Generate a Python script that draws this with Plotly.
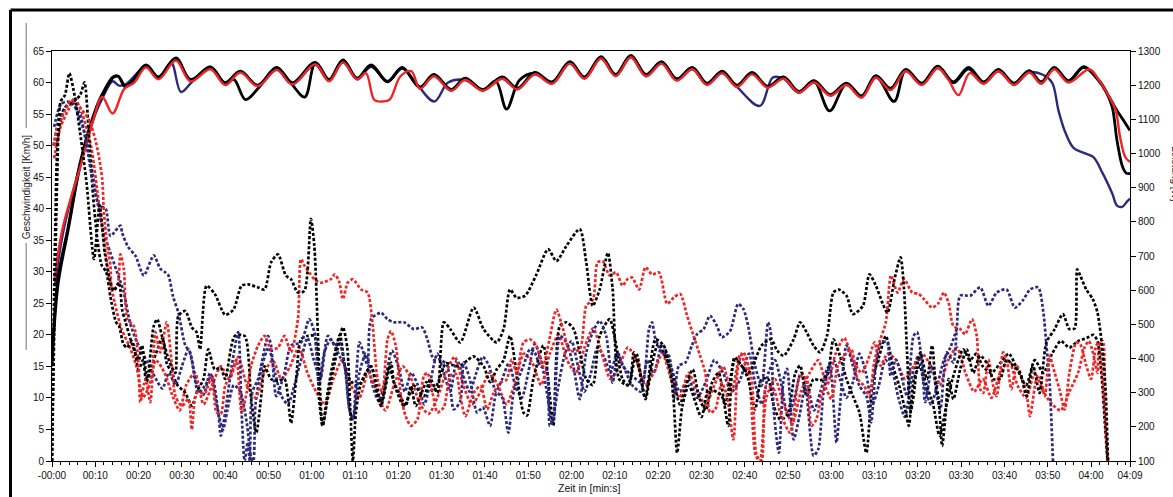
import plotly.graph_objects as go

# ---------------- tick labels ----------------
x_tick_vals = [0, 10, 20, 30, 40, 50, 60, 70, 80, 90, 100, 110, 120, 130, 140, 150,
               160, 170, 180, 190, 200, 210, 220, 230, 240, 249]
x_tick_text = ["-00:00", "00:10", "00:20", "00:30", "00:40", "00:50", "01:00", "01:10",
               "01:20", "01:30", "01:40", "01:50", "02:00", "02:10", "02:20", "02:30",
               "02:40", "02:50", "03:00", "03:10", "03:20", "03:30", "03:40", "03:50",
               "04:00", "04:09"]

# ---------------- speed (km/h), solid lines: (seconds, km/h) ----------------
speed_black_1 = [(0, 16), (1.4, 29), (3.7, 37), (6.4, 47), (8.5, 52.5), (10.9, 57.2), (12.1, 58.8),
    (14.1, 60.9), (15.3, 61.0), (16.9, 59.3), (18.5, 60.1), (21.7, 62.7), (24.6, 60.8), (28.6, 63.8),
    (32.0, 60.5), (36.6, 62.4), (40.0, 59.8), (42.0, 60.5), (44.7, 57.3), (47.9, 59.3), (51.9, 62.3),
    (55.3, 59.8), (58.4, 57.7), (60.8, 63.0), (64.0, 60.4), (67.2, 63.5), (70.5, 60.6), (73.7, 62.7),
    (77.5, 60.1), (80.9, 62.3), (85.0, 59.2), (88.2, 61.2), (92.2, 58.8), (95.4, 60.6), (99.5, 58.8),
    (102.5, 60.2), (105.0, 55.8), (108.0, 60.4), (111.5, 61.5), (115.5, 60.0), (119.6, 63.2),
    (123.0, 60.8), (126.8, 64.0), (130.2, 61.2), (133.7, 64.2), (137.2, 61.2), (140.8, 63.2),
    (144.3, 60.5), (147.9, 62.3), (151.3, 59.8), (154.8, 61.7), (158.2, 59.5), (161.7, 61.5),
    (165.3, 59.3), (169.0, 60.8), (172.5, 58.5), (176.0, 60.2), (179.6, 55.5), (183.5, 59.8),
    (187.0, 57.8), (190.3, 61.0), (194.5, 57.0), (197.2, 62.0), (200.9, 59.8), (204.6, 62.5),
    (208.2, 60.0), (211.7, 62.3), (215.2, 60.0), (218.6, 62.0), (222.2, 59.8), (225.7, 61.8),
    (228.5, 60.0), (231.5, 62.3), (234.8, 60.2), (238.3, 62.4), (241.9, 60.3), (244.2, 57.7),
    (245.7, 55.9), (247.5, 54.0), (249, 52.4)]

speed_black_2 = [(0, 15), (1.4, 28), (3.7, 36.5), (6.4, 46.5), (8.5, 52), (10.9, 57), (12.1, 58.6),
    (14.1, 60.8), (15.3, 61.0), (16.9, 59.5), (18.5, 60.2), (21.7, 62.8), (24.6, 60.9), (28.6, 63.9),
    (32.0, 60.4), (36.6, 62.5), (40.0, 60.0), (43.5, 61.8), (47.5, 59.6), (51.9, 62.4), (55.5, 60.0),
    (60.8, 63.2), (64.0, 60.5), (67.2, 63.6), (70.5, 60.7), (73.7, 62.8), (77.5, 60.2), (80.9, 62.4),
    (85.0, 59.3), (88.2, 61.3), (92.2, 58.9), (95.4, 60.7), (99.5, 58.9), (104.0, 60.9), (107.5, 59.1),
    (111.5, 61.6), (115.5, 60.1), (119.6, 63.3), (123.0, 60.9), (126.8, 64.1), (130.2, 61.3),
    (133.7, 64.3), (137.2, 61.3), (140.8, 63.3), (144.3, 60.6), (147.9, 62.4), (151.3, 59.9),
    (154.8, 61.8), (158.2, 59.6), (161.7, 61.6), (165.3, 59.4), (169.0, 60.9), (172.5, 58.6),
    (176.0, 60.3), (179.8, 58.1), (183.5, 59.9), (187.0, 57.9), (190.3, 61.1), (193.7, 59.1),
    (197.2, 62.1), (200.9, 59.9), (204.6, 62.6), (208.2, 60.1), (211.7, 62.4), (215.2, 60.1),
    (218.6, 62.1), (222.2, 59.9), (225.7, 61.9), (228.5, 60.1), (231.5, 62.4), (234.8, 60.3),
    (238.3, 62.5), (241.5, 60.5), (243.5, 58.5), (244.9, 56.1), (246.0, 50.8), (247.3, 46.6),
    (248.2, 45.6), (249, 45.6)]

speed_blue = [(0.7, 28), (2.5, 36), (6.5, 47), (10.0, 55), (12.0, 58), (14.0, 60.2), (15.5, 59.5),
    (17.2, 59.8), (21.7, 62.5), (24.6, 60.7), (27.5, 63.2), (29.8, 58.5), (32.5, 60.2), (36.6, 62.2),
    (40.0, 59.8), (43.5, 61.8), (47.5, 59.5), (51.9, 62.0), (55.5, 59.8), (60.8, 62.8), (64.0, 60.3),
    (67.2, 63.2), (70.5, 60.5), (73.7, 62.5), (77.5, 60.2), (80.9, 62.2), (84.0, 60.0), (88.3, 57.0),
    (91.5, 60.0), (95.4, 60.4), (99.5, 58.8), (104.0, 60.6), (107.5, 59.0), (111.5, 61.3),
    (115.5, 59.9), (119.6, 63.0), (123.0, 60.7), (126.8, 63.8), (130.2, 61.1), (133.7, 64.0),
    (137.2, 61.0), (140.8, 63.0), (144.3, 60.4), (147.9, 62.1), (151.3, 59.7), (154.8, 61.5),
    (158.2, 59.3), (163.5, 56.3), (166.5, 60.8), (169.0, 60.6), (172.5, 58.4), (176.0, 60.0),
    (179.8, 58.0), (183.5, 59.7), (187.0, 57.7), (190.3, 60.8), (193.7, 58.9), (197.2, 61.8),
    (200.9, 59.7), (204.6, 62.3), (208.2, 59.9), (211.7, 62.1), (215.2, 59.9), (218.6, 61.8),
    (222.2, 59.7), (225.7, 61.6), (229.0, 61.2), (231.0, 60.0), (232.5, 55.5), (234.0, 52.2),
    (236.0, 49.6), (238.5, 48.8), (240.5, 48.2), (242.7, 45.6), (244.9, 42.4), (246.0, 40.5),
    (247.2, 40.3), (248.4, 41.2), (249, 41.6)]

speed_red = [(0.6, 29), (2.5, 37), (6.7, 47), (9.5, 54), (11.6, 57.7), (14.0, 55.1), (16.7, 59),
    (19.0, 60), (21.7, 62.4), (24.6, 60.5), (28.6, 63.5), (32.0, 60.2), (36.6, 62.1), (40.0, 59.6),
    (43.5, 61.6), (47.5, 59.4), (51.9, 62.0), (55.5, 59.7), (60.8, 62.9), (64.0, 60.2), (67.2, 63.2),
    (70.5, 60.5), (72.5, 61.5), (74.5, 57.2), (76.5, 57.0), (78.0, 57.3), (80.5, 61.0), (83.0, 61.8),
    (85.0, 59.0), (88.2, 61.0), (92.2, 58.7), (95.4, 60.4), (99.5, 58.7), (104.0, 60.6), (107.5, 58.9),
    (111.5, 61.3), (115.5, 59.8), (119.6, 63.0), (123.0, 60.6), (126.8, 63.8), (130.2, 61.0),
    (133.7, 64.0), (137.2, 61.0), (140.8, 63.0), (144.3, 60.3), (147.9, 62.1), (151.3, 59.6),
    (154.8, 61.5), (158.2, 59.3), (161.7, 61.3), (165.3, 59.2), (169.0, 60.6), (172.5, 58.4),
    (176.0, 60.0), (179.8, 57.9), (183.5, 59.6), (187.0, 57.6), (190.3, 60.8), (193.7, 58.8),
    (197.2, 61.8), (200.9, 59.6), (204.6, 62.3), (207.0, 60.5), (209.4, 58.0), (212.0, 61.5),
    (215.2, 59.8), (218.6, 61.8), (222.2, 59.6), (225.7, 61.6), (228.5, 59.8), (231.5, 62.1),
    (234.8, 60.0), (239.6, 62.1), (241.9, 60.3), (244.2, 57.7), (245.7, 55.6), (246.7, 51.4),
    (247.9, 48.2), (249, 47.4)]

# ---------------- power (W), dotted lines: (seconds, watts) ----------------
power_black_1 = [(0, 100), (0.5, 469), (1.2, 931), (2, 1152), (3, 1171), (4, 1235), (5.2, 1171),
    (6.5, 1060), (8, 912), (9.7, 691), (11, 848), (12.2, 709), (13.5, 622), (14.3, 598), (15.5, 622),
    (16.2, 543), (17, 506), (18.5, 442), (20, 395), (20.8, 438), (22, 340), (23.5, 495), (24.3, 515),
    (25.4, 466), (27, 395), (28.5, 358), (29.2, 525), (30.8, 539), (32.3, 491), (33.4, 477),
    (34.2, 427), (35.7, 613), (37.6, 589), (40, 528), (41.9, 543), (43.8, 613), (45.3, 617),
    (47.6, 608), (49.1, 602), (50.6, 681), (52.2, 705), (54, 643), (55.2, 632), (56.8, 593),
    (58.3, 598), (59.8, 809), (60.6, 728), (61.7, 377), (62.5, 203), (63.7, 285), (65.3, 388),
    (67.2, 491), (68.2, 432), (68.9, 251), (69.5, 100), (70.2, 242), (71.4, 329), (73.7, 377),
    (75.2, 290), (76, 261), (78.3, 388), (79, 329), (81.3, 261), (83.6, 320), (85.9, 290),
    (87.4, 340), (89, 299), (90.5, 506), (92, 486), (94.3, 447), (97.4, 549), (99.7, 486),
    (102.7, 447), (104.3, 486), (105.8, 602), (107.3, 578), (109.3, 584), (111.9, 646),
    (114.6, 720), (116.5, 685), (118.8, 729), (121.9, 779), (123.4, 681), (124.9, 554),
    (126.5, 602), (128.4, 709), (129.5, 602), (131, 340), (133, 322), (135, 414), (137, 285),
    (139.4, 456), (141.3, 438), (143.3, 320), (144.4, 124), (145.6, 261), (147.1, 320), (150, 229),
    (151.7, 310), (154.7, 290), (156.2, 203), (157.7, 403), (160.8, 358), (163.9, 438),
    (166.1, 456), (167.5, 423), (169, 408), (171.3, 456), (172.8, 506), (174.3, 477), (175.9, 438),
    (177.4, 418), (179, 466), (180.5, 593), (181.7, 602), (183.5, 584), (185, 530), (187.3, 554),
    (188.8, 646), (190.3, 613), (191.9, 560), (193, 534), (194.6, 632), (196, 696), (196.8, 602),
    (197.5, 418), (198.3, 242), (199.1, 299), (199.8, 379), (200.6, 418), (202.1, 340),
    (203.3, 438), (204, 340), (204.8, 281), (205.6, 144), (206.3, 222), (207.1, 340), (208.2, 281),
    (209.8, 370), (211.3, 427), (212.8, 358), (214.4, 408), (216.3, 379), (217.4, 340), (219, 340),
    (220.5, 397), (222, 379), (223.6, 358), (225.1, 290), (226.6, 379), (228.1, 299), (229.7, 447),
    (231.6, 486), (233.5, 530), (235, 486), (236.2, 488), (236.8, 661), (237.5, 643), (238.9, 602),
    (240.4, 574), (241.5, 534), (242.7, 418), (243.4, 299), (243.9, 100)]

power_black_2 = [(0, 100), (0.7, 746), (1.5, 1060), (3, 1134), (5, 1152), (6.5, 1171), (7.5, 1208),
    (8.5, 1060), (9.5, 875), (10.5, 746), (11.5, 672), (12.5, 654), (13.5, 580), (14.8, 506),
    (15.5, 495), (16.5, 442), (17.3, 432), (18.5, 451), (20, 368), (21, 395), (21.8, 331), (23, 377),
    (24, 414), (25.5, 460), (26.5, 386), (27.7, 358), (29, 322), (30.8, 299), (32.3, 261),
    (33.5, 303), (35, 340), (36.1, 427), (37.6, 368), (39, 373), (40, 340), (42.2, 466), (44.5, 466),
    (46, 281), (47.2, 183), (48.4, 299), (49.1, 377), (50.6, 340), (52.2, 334), (53.7, 340),
    (55.2, 211), (56.4, 340), (57.5, 456), (59, 466), (60.6, 466), (61.7, 281), (62.5, 203),
    (63.7, 303), (65, 395), (66.5, 469), (68, 358), (70, 322), (71.4, 329), (72.5, 358), (73.7, 377),
    (75, 322), (76, 266), (77.9, 377), (79, 329), (80.2, 299), (81.7, 261), (82.9, 320), (84, 261),
    (85.5, 303), (86.5, 331), (88, 303), (89.5, 340), (91, 386), (92.5, 381), (94, 377), (96, 395),
    (97.4, 406), (99.7, 377), (101.2, 331), (102.7, 368), (104.3, 395), (105.8, 466), (107.3, 358),
    (108.9, 242), (109.7, 233), (111.2, 340), (113.5, 438), (115, 290), (115.8, 203), (117.3, 495),
    (118.8, 506), (120.4, 488), (121.9, 418), (123.4, 340), (124.9, 322), (126.5, 466),
    (128.8, 515), (130.2, 447), (131.8, 340), (133.3, 320), (134.4, 418), (135.6, 368),
    (137.1, 281), (138.5, 377), (140, 442), (142, 395), (143.5, 340), (145, 266), (146.5, 322),
    (148, 368), (149.5, 285), (151, 248), (152.5, 331), (154, 358), (155.5, 266), (157.8, 397),
    (159.3, 379), (160.8, 340), (162.4, 251), (163.9, 340), (165.4, 340), (166.7, 261),
    (168.2, 222), (169.8, 233), (171.7, 358), (172.8, 379), (174.3, 290), (175.9, 340),
    (177.4, 336), (179, 349), (180.5, 456), (182, 408), (183.5, 340), (185, 290), (186.5, 242),
    (188.1, 124), (189.6, 340), (191.1, 408), (192.6, 466), (194.2, 379), (195.7, 320),
    (197.2, 242), (197.9, 203), (199.1, 340), (200.5, 377), (202, 322), (203.5, 266), (205, 174),
    (206.5, 257), (208, 340), (210.5, 427), (212, 395), (213.5, 414), (215, 377), (217, 358),
    (219, 386), (221, 414), (223, 368), (225, 322), (227, 395), (229, 358), (231, 414), (233, 451),
    (235, 432), (237, 451), (239, 460), (240.5, 469), (241.5, 451), (242.5, 340), (243.3, 192),
    (243.8, 100)]

power_red_1 = [(0.3, 1023), (1.4, 1082), (3, 1125), (4.4, 1156), (6.4, 1136), (8.6, 1097),
    (10, 1041), (10.9, 986), (11.6, 925), (12, 827), (12.8, 728), (13.5, 672), (13.9, 602),
    (15.1, 613), (15.8, 705), (16.6, 661), (17.4, 515), (18.9, 495), (20, 379), (20.4, 272),
    (21.6, 340), (22.7, 272), (23.9, 477), (25, 418), (26.5, 506), (27.7, 379), (28.5, 290),
    (30, 261), (31.5, 281), (32.3, 192), (33.4, 299), (35.3, 299), (36.9, 349), (38, 242),
    (39, 238), (40, 320), (41.5, 358), (42.6, 397), (43.8, 242), (45, 303), (46, 379), (47.6, 438),
    (49.1, 466), (50.6, 427), (52.2, 432), (53.7, 466), (55.2, 418), (56.8, 515), (57.5, 691),
    (58.3, 672), (59.4, 652), (60.6, 632), (62.1, 622), (64.4, 632), (65.3, 646), (66.3, 626),
    (67.2, 574), (68.3, 622), (69.5, 632), (71.4, 602), (72.9, 593), (74, 506), (75.2, 340),
    (76.3, 299), (77.5, 456), (78.3, 480), (79.4, 438), (80.6, 290), (81.7, 231), (82.9, 203),
    (84.4, 222), (85.9, 349), (86.7, 358), (88.2, 281), (89, 242), (90.5, 257), (92, 349),
    (93.3, 355), (94.3, 290), (95.5, 231), (97.4, 299), (99, 320), (100.5, 251), (102, 299),
    (103.5, 329), (105, 338), (106.2, 397), (107.3, 358), (108.9, 447), (110.4, 456), (111.9, 438),
    (113.4, 377), (114.9, 456), (116.5, 543), (118, 488), (119.6, 423), (121.9, 427), (123.4, 554),
    (125, 574), (126, 681), (127.2, 685), (128.8, 643), (130.3, 652), (131.8, 613), (132.9, 632),
    (134, 637), (135.6, 602), (137.1, 667), (138.6, 646), (140.2, 652), (142.1, 560), (143.6, 578),
    (145.1, 589), (146.7, 525), (148.2, 466), (149.7, 408), (150.9, 358), (152, 242), (153.2, 251),
    (154.7, 329), (155.9, 290), (157.4, 163), (158.5, 379), (159.7, 418), (161.6, 340),
    (162.8, 115), (163.9, 100), (165, 320), (166.7, 310), (168.2, 242), (170.5, 183), (172.8, 349),
    (174.3, 340), (175.4, 203), (176.5, 220), (178.4, 320), (180, 281), (181.5, 379), (183, 408),
    (184.6, 427), (186.1, 340), (187.6, 320), (188.8, 290), (189.9, 388), (191.1, 447),
    (192.6, 506), (193.8, 643), (195.3, 593), (196.8, 632), (198.7, 593), (200.2, 589),
    (201.4, 574), (203.3, 549), (204.8, 563), (206, 593), (207.1, 563), (208.2, 495), (209.8, 486),
    (210.9, 471), (212.5, 515), (213.6, 466), (214.4, 310), (215.1, 299), (216.3, 397),
    (217.4, 320), (218.2, 290), (219.7, 418), (220.5, 397), (221.6, 310), (222.8, 379),
    (223.9, 349), (225.1, 299), (225.9, 231), (227.4, 340), (228.1, 349), (229.3, 290),
    (230.4, 408), (231.6, 358), (232.7, 310), (233.9, 251), (235, 358), (236.6, 447), (237.5, 442),
    (238.9, 379), (240, 340), (241.2, 438), (241.9, 447), (242.7, 340), (243.4, 192), (244, 100)]

power_red_2 = [(0.5, 986), (2, 1078), (4, 1134), (5.2, 1163), (7, 1115), (9, 1023), (11, 838),
    (13, 654), (14.5, 562), (16, 488), (18, 432), (19.5, 377), (21, 285), (22.5, 322), (24, 395),
    (26, 358), (28, 285), (29.5, 248), (31, 322), (33, 358), (35, 266), (37, 322), (39, 377),
    (41, 340), (43, 405), (45, 322), (47, 285), (49, 358), (51, 395), (53, 340), (55, 377),
    (57, 432), (59, 358), (61, 303), (63, 266), (65, 340), (67, 395), (69, 322), (71, 285),
    (73, 358), (75, 303), (77, 248), (79, 322), (81, 377), (83, 340), (85, 266), (87, 238),
    (89, 285), (91, 358), (93, 405), (95, 322), (97, 266), (99, 303), (101, 358), (103, 322),
    (105, 266), (107, 331), (109, 414), (111, 386), (113, 322), (115, 414), (117, 469), (119, 395),
    (121, 358), (123, 432), (125, 488), (127, 414), (129, 340), (131, 377), (133, 432), (135, 395),
    (137, 322), (139, 358), (141, 414), (143, 340), (145, 285), (147, 358), (149, 303), (151, 266),
    (153, 322), (155, 377), (157, 303), (159, 414), (161, 340), (162.5, 118), (163.5, 100),
    (165, 285), (167, 340), (169, 266), (171, 211), (173, 303), (175, 358), (177, 395), (179, 322),
    (181, 414), (183, 460), (185, 395), (187, 358), (189, 414), (190, 447), (191.4, 379),
    (193, 414), (195, 395), (197, 340), (199, 377), (201, 414), (203, 377), (205, 322), (207, 395),
    (209, 432), (211, 358), (213, 303), (215, 340), (217, 285), (219, 358), (221, 395), (223, 322),
    (225, 285), (227, 358), (229, 303), (231, 266), (233, 248), (235, 303), (237, 358),
    (238.5, 432), (239.5, 451), (240.5, 414), (241.5, 358), (242, 451), (242.7, 451),
    (243.2, 285), (243.8, 100)]

power_blue_1 = [(0.5, 1078), (2, 1143), (3.5, 1152), (5, 1143), (6.5, 1115), (8, 1023), (9.5, 912),
    (10.9, 848), (12.4, 838), (13.5, 759), (15.8, 789), (16.2, 768), (17.5, 728), (19.3, 700),
    (21.2, 643), (23.5, 702), (25, 663), (26.2, 652), (26.9, 643), (28, 580), (29.2, 534),
    (30.8, 438), (31.9, 418), (33, 340), (33.8, 299), (35.3, 320), (36.9, 349), (38.4, 242),
    (39, 174), (40, 242), (41.5, 377), (43, 477), (43.8, 242), (44.5, 100), (45.2, 155),
    (45.7, 100), (46.2, 299), (47.6, 340), (49.9, 466), (50.6, 438), (51.8, 290), (53.7, 358),
    (55.2, 438), (57.5, 447), (59.4, 515), (60.6, 477), (61.7, 320), (62.9, 418), (64.4, 456),
    (65.3, 438), (66.3, 447), (67.6, 379), (68.7, 251), (69.5, 222), (71, 447), (71.8, 423),
    (72.9, 379), (73.7, 515), (76, 534), (77.5, 515), (79, 506), (81.3, 506), (83.6, 486),
    (85.5, 491), (86.7, 456), (88.2, 397), (89.7, 397), (91.3, 379), (92.8, 251), (94.3, 275),
    (95.1, 388), (96.5, 340), (98.2, 242), (99.5, 257), (101.2, 203), (102.7, 299), (104, 285),
    (105.4, 183), (106.6, 299), (107.7, 340), (108.9, 379), (110.4, 427), (111.5, 418),
    (112.7, 379), (114.2, 368), (115, 203), (115.8, 222), (117.3, 466), (118.8, 447), (120.4, 379),
    (121.9, 281), (123.4, 418), (124.9, 477), (126.5, 510), (128, 466), (129.5, 329), (130.7, 418),
    (131.8, 379), (134, 349), (136.3, 329), (137.9, 486), (138.6, 506), (139.4, 456), (140.9, 418),
    (142.5, 408), (143.6, 281), (144.8, 379), (146.3, 388), (147.8, 438), (149, 471), (150.5, 486),
    (152, 525), (153.6, 495), (154.7, 462), (156.6, 480), (158.5, 560), (159.7, 545), (160.8, 495),
    (162.4, 379), (163.9, 320), (165.4, 506), (166, 478), (166.7, 251), (167.9, 124), (169, 340),
    (169.8, 370), (171.3, 163), (172.8, 242), (174, 320), (175.9, 115), (177, 135), (178.2, 299),
    (179.7, 379), (181.2, 154), (182, 261), (183.5, 438), (185, 379), (186.5, 320), (188.1, 290),
    (189.2, 213), (190.3, 379), (191.5, 447), (192.9, 447), (193.7, 349), (194.9, 397), (196, 358),
    (197.5, 290), (199, 466), (199.8, 477), (201, 379), (201.7, 272), (203.3, 379), (204.4, 290),
    (205.2, 251), (206.7, 418), (208.2, 388), (209, 488), (209.8, 584), (212.1, 584), (214.4, 608),
    (216.3, 554), (218.2, 593), (220.5, 602), (222.4, 549), (224.3, 571), (225.9, 602),
    (227.8, 608), (229, 534), (229.7, 438), (230.4, 340), (231.2, 100)]

power_blue_2 = [(0.5, 1023), (1.5, 1097), (3, 1134), (4.5, 1152), (6, 1115), (7.5, 1060), (9, 968),
    (10.5, 857), (12, 765), (13.5, 709), (15, 654), (16.5, 598), (18, 506), (19.5, 451), (21, 414),
    (22.5, 377), (24, 340), (25.5, 312), (27, 358), (28.5, 322), (30, 377), (31.5, 427), (32.3, 395),
    (33.5, 322), (35, 294), (36.5, 358), (38, 266), (39.5, 192), (40.5, 248), (42, 322), (43.5, 303),
    (45, 211), (46, 109), (46.5, 100), (47, 266), (48.5, 377), (50, 432), (51.5, 358), (53, 290),
    (54.5, 266), (56, 322), (57.5, 395), (59, 460), (60.5, 395), (62, 340), (63.7, 466),
    (65.3, 438), (66.5, 405), (67.6, 379), (68.7, 251), (69.5, 222), (71, 358), (72.5, 414),
    (74, 322), (75.5, 275), (77, 340), (78.5, 423), (80, 377), (81.5, 303), (83, 358), (84.5, 322),
    (86, 266), (87.5, 340), (89, 414), (90.5, 358), (92, 303), (93.5, 395), (95, 349), (96.5, 303),
    (98, 358), (99.5, 405), (101, 377), (102.5, 303), (104, 340), (105.5, 386), (107, 322),
    (108.5, 285), (110, 358), (111.5, 442), (113, 395), (114.5, 285), (115.5, 211), (117, 322),
    (118.5, 414), (120, 451), (121.5, 377), (123, 303), (124.5, 358), (126, 432), (127.5, 405),
    (129, 358), (130.5, 414), (132, 377), (134, 322), (136, 303), (137.5, 395), (139, 358),
    (141, 442), (143, 377), (145, 303), (147, 340), (149, 285), (151, 331), (153, 395), (155, 358),
    (157, 303), (159, 340), (161, 414), (162.5, 322), (164, 266), (165.5, 358), (167, 395),
    (168.5, 322), (170, 229), (171.5, 285), (173, 358), (174.5, 322), (176, 248), (177.5, 303),
    (179, 368), (180.5, 395), (182, 340), (183.5, 285), (185, 331), (186.5, 414), (188, 358),
    (189.5, 266), (191, 322), (192.5, 395), (194, 368), (195.5, 285), (197, 229), (198.5, 340),
    (200, 405), (201.5, 322), (203, 266), (204.5, 322), (206, 395), (207.5, 432), (209, 488)]

# ---------------- styling ----------------
BLACK = "#000000"
RED = "#f02424"
BLUE = "#2c2a7e"
FONT = "Liberation Sans"

fig = go.Figure()


def add_power(series, color):
    fig.add_trace(go.Scatter(
        x=[p[0] for p in series], y=[p[1] for p in series], yaxis="y2", mode="lines",
        line=dict(color=color, width=2.7, dash="3px,2px", shape="spline", smoothing=0.7),
        hoverinfo="skip", showlegend=False))


def add_speed(series, color, width):
    fig.add_trace(go.Scatter(
        x=[p[0] for p in series], y=[p[1] for p in series], mode="lines",
        line=dict(color=color, width=width, shape="spline", smoothing=1.0),
        hoverinfo="skip", showlegend=False))


add_power(power_blue_2, BLUE)
add_power(power_red_2, RED)
add_power(power_black_2, BLACK)
add_power(power_blue_1, BLUE)
add_power(power_red_1, RED)
add_power(power_black_1, BLACK)
add_speed(speed_blue, BLUE, 2.4)
add_speed(speed_black_2, BLACK, 2.8)
add_speed(speed_black_1, BLACK, 2.8)
add_speed(speed_red, RED, 2.4)

minor_vals = [v for v in range(2, 249, 2) if v % 10 != 0]

fig.update_layout(
    width=1173, height=497, autosize=False,
    margin=dict(l=52, r=35, t=51, b=36, pad=0),
    paper_bgcolor="white", plot_bgcolor="white",
    font=dict(family=FONT, size=10, color="#111"),
    xaxis=dict(range=[0, 249], tickmode="array", tickvals=x_tick_vals, ticktext=x_tick_text,
               ticks="outside", ticklen=5, tickwidth=1, tickcolor="black",
               showline=True, linecolor="black", linewidth=1, mirror=True,
               showgrid=False, zeroline=False, tickfont=dict(size=10),
               minor=dict(tickmode="array", tickvals=minor_vals, ticks="outside", ticklen=3,
                          tickcolor="black", tickwidth=1, showgrid=False)),
    yaxis=dict(range=[0, 65], tick0=0, dtick=5, ticks="outside", ticklen=5, tickwidth=1,
               tickcolor="black", showline=True, linecolor="black", linewidth=1,
               showgrid=False, zeroline=False, tickfont=dict(size=10)),
    yaxis2=dict(range=[100, 1300], tick0=100, dtick=100, overlaying="y", side="right",
                ticks="outside", ticklen=5, tickwidth=1, tickcolor="black",
                showline=True, linecolor="black", linewidth=1,
                showgrid=False, zeroline=False, tickfont=dict(size=10)),
)

# outer frame and axis-title decoration
fig.add_shape(type="line", xref="paper", yref="paper", x0=-0.0385, y0=-0.12, x1=-0.0385, y1=1.1,
              line=dict(color="black", width=3))
fig.add_shape(type="line", xref="paper", yref="paper", x0=-0.0385, y0=1.1, x1=1.06, y1=1.1,
              line=dict(color="black", width=3))
fig.add_shape(type="line", xref="paper", yref="paper", x0=-0.0239, y0=1.068, x1=-0.0239, y1=0.812,
              line=dict(color="#a0a0a0", width=1.5))
fig.add_shape(type="line", xref="paper", yref="paper", x0=-0.0239, y0=0.532, x1=-0.0239, y1=0.271,
              line=dict(color="#a0a0a0", width=1.5))

fig.add_annotation(text="Geschwindigkeit [Km/h]", xref="paper", yref="paper", x=-0.0239, y=0.668,
                   textangle=-90, showarrow=False, xanchor="center", yanchor="middle",
                   font=dict(size=10, color="#222"))
fig.add_annotation(text="Zeit in [min:s]", xref="paper", yref="paper", x=0.499, y=-0.066,
                   showarrow=False, xanchor="center", yanchor="middle",
                   font=dict(size=10.5, color="#111"))
fig.add_annotation(text="Leistung [W]", xref="paper", yref="paper", x=1.0425, y=0.70,
                   textangle=90, showarrow=False, xanchor="center", yanchor="middle",
                   font=dict(size=10, color="#222"))

fig.write_html("out.html", config={"displayModeBar": False},
               post_script="document.body.style.margin='0px';document.body.style.overflow='hidden';")
